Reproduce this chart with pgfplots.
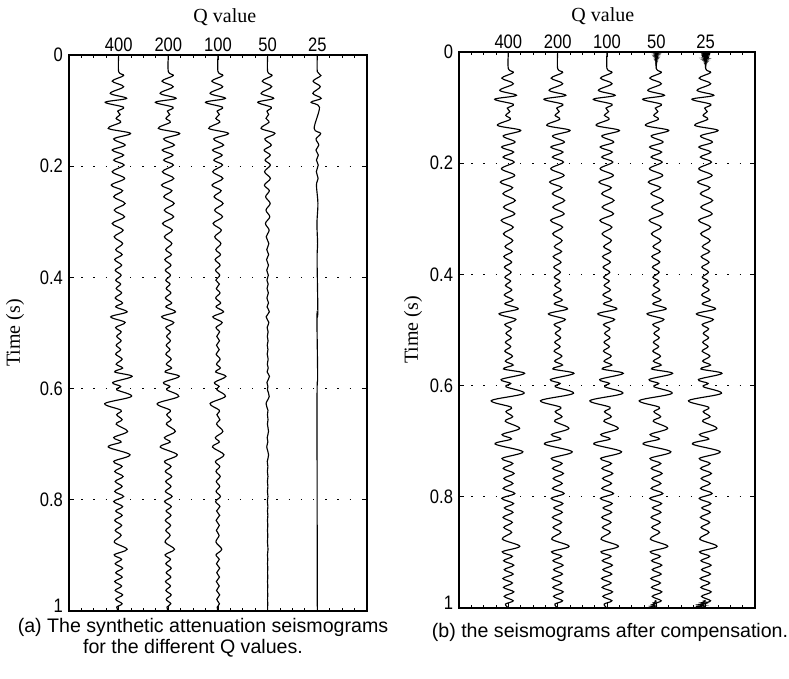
\documentclass[border=0pt]{standalone}
\usepackage{fontspec}
\setmainfont{Liberation Serif}
\newfontfamily\tlfont[FakeStretch=0.85]{Liberation Sans}
\newfontfamily\capfont{Liberation Sans}
\usepackage{pgfplots}
\usepackage{pgfplotstable}
\pgfplotsset{compat=1.18}

% t = time (s); columns = trace amplitude (x-units)
\pgfplotstableread{
t a400 a200 a100 a50 b
0.000 0 0 0 0 0
0.030 0 0 0 0 0
0.037 0.10 0.099 0.097 0.088 0.101
0.047 -0.13 -0.128 -0.125 -0.11 -0.132
0.057 0.10 0.098 0.095 0.082 0.102
0.069 -0.17 -0.166 -0.16 -0.133 -0.174
0.078 0.16 0.156 0.149 0.121 0.165
0.085 -0.27 -0.262 -0.251 -0.2 -0.278
0.094 0.10 0.097 0.092 0.072 0.103
0.101 -0.02 -0.019 -0.018 -0.014 -0.021
0.107 0.03 0.029 0.027 0.02 0.031
0.114 -0.05 -0.048 -0.045 -0.034 -0.052
0.121 0.04 0.038 0.036 0.026 0.042
0.132 -0.21 -0.201 -0.186 -0.133 -0.22
0.141 0.24 0.229 0.212 0.147 0.252
0.151 -0.10 -0.095 -0.087 -0.058 -0.105
0.162 0.13 0.123 0.113 0.074 0.137
0.171 -0.13 -0.123 -0.111 -0.072 -0.138
0.180 0.10 0.094 0.085 0.053 0.107
0.189 -0.10 -0.094 -0.085 -0.052 -0.107
0.198 0.11 0.103 0.092 0.055 0.118
0.210 -0.13 -0.121 -0.108 -0.063 -0.14
0.222 0.12 0.111 0.099 0.055 0.13
0.234 -0.15 -0.138 -0.122 -0.066 -0.163
0.244 0.08 0.073 0.064 0.034 0.087
0.255 -0.10 -0.092 -0.08 -0.041 -0.109
0.267 0.13 0.118 0.102 0.051 0.142
0.279 -0.09 -0.082 -0.07 -0.034 -0.099
0.291 0.12 0.108 0.092 0.043 0.132
0.303 -0.13 -0.117 -0.099 -0.045 -0.144
0.315 0.09 0.081 0.068 0.03 0.1
0.327 -0.09 -0.08 -0.067 -0.029 -0.1
0.339 0.08 0.071 0.059 0.024 0.09
0.350 -0.06 -0.053 -0.044 -0.018 -0.068
0.359 0.07 0.062 0.051 0.02 0.079
0.368 -0.08 -0.071 -0.058 -0.022 -0.091
0.378 0.06 0.053 0.043 0.016 0.068
0.387 -0.07 -0.061 -0.05 -0.018 -0.08
0.396 0.05 0.044 0.035 0.013 0.057
0.405 -0.06 -0.052 -0.042 -0.015 -0.069
0.412 0.04 0.035 0.028 0.01 0.046
0.420 -0.05 -0.043 -0.034 -0.012 -0.058
0.428 0.06 0.052 0.041 0.014 0.07
0.437 -0.07 -0.06 -0.047 -0.015 -0.082
0.446 0.08 0.068 0.054 0.017 0.094
0.453 -0.06 -0.051 -0.04 -0.012 -0.07
0.462 0.17 0.145 0.112 0.034 0.2
0.471 -0.16 -0.136 -0.105 -0.031 -0.188
0.481 0.13 0.11 0.084 0.024 0.154
0.490 -0.06 -0.05 -0.039 -0.011 -0.071
0.498 0.05 0.042 0.032 0.009 0.06
0.506 -0.04 -0.034 -0.025 -0.007 -0.048
0.514 0.05 0.042 0.031 0.008 0.06
0.522 -0.05 -0.042 -0.031 -0.008 -0.06
0.530 0.04 0.033 0.025 0.006 0.048
0.538 -0.06 -0.05 -0.037 -0.009 -0.072
0.547 0.07 0.058 0.043 0.01 0.085
0.556 -0.05 -0.041 -0.03 -0.007 -0.061
0.563 0.08 0.066 0.048 0.011 0.098
0.570 -0.08 -0.066 -0.048 -0.011 -0.098
0.578 0.27 0.221 0.16 0.036 0.33
0.589 -0.12 -0.098 -0.071 -0.015 -0.147
0.596 0.04 0.032 0.023 0.005 0.049
0.602 -0.04 -0.032 -0.023 -0.005 -0.049
0.614 0.26 0.21 0.15 0.031 0.32
0.627 -0.28 -0.225 -0.16 -0.032 -0.347
0.639 0.05 0.04 0.028 0.006 0.062
0.647 -0.04 -0.032 -0.022 -0.004 -0.05
0.656 0.07 0.056 0.039 0.007 0.088
0.664 -0.05 -0.04 -0.028 -0.005 -0.063
0.677 0.18 0.142 0.098 0.017 0.228
0.688 -0.10 -0.079 -0.054 -0.009 -0.127
0.696 0.05 0.039 0.027 0.004 0.064
0.705 -0.21 -0.164 -0.112 -0.018 -0.269
0.719 0.23 0.179 0.121 0.019 0.295
0.731 -0.10 -0.077 -0.052 -0.008 -0.129
0.740 0.07 0.054 0.036 0.005 0.091
0.749 -0.08 -0.062 -0.041 -0.006 -0.104
0.758 0.09 0.069 0.045 0.006 0.117
0.767 -0.07 -0.054 -0.035 -0.005 -0.091
0.776 0.07 0.053 0.035 0.005 0.092
0.785 -0.08 -0.061 -0.039 -0.005 -0.105
0.794 0.10 0.076 0.049 0.006 0.132
0.803 -0.10 -0.076 -0.049 -0.006 -0.132
0.812 0.08 0.06 0.039 0.005 0.106
0.820 -0.06 -0.045 -0.029 -0.004 -0.08
0.828 0.07 0.052 0.033 0.004 0.094
0.837 -0.08 -0.06 -0.038 -0.004 -0.107
0.846 0.06 0.045 0.028 0.003 0.081
0.855 -0.07 -0.052 -0.033 -0.004 -0.094
0.864 0.05 0.037 0.023 0.003 0.068
0.876 -0.09 -0.066 -0.041 -0.004 -0.122
0.889 0.17 0.124 0.076 0.007 0.232
0.899 -0.09 -0.066 -0.04 -0.004 -0.123
0.907 0.06 0.044 0.027 0.002 0.082
0.915 -0.07 -0.051 -0.031 -0.003 -0.096
0.923 0.08 0.058 0.035 0.003 0.11
0.931 -0.06 -0.043 -0.026 -0.002 -0.083
0.939 0.07 0.05 0.03 0.003 0.097
0.947 -0.08 -0.057 -0.034 -0.003 -0.111
0.955 0.06 0.043 0.026 0.002 0.083
0.963 -0.07 -0.05 -0.03 -0.002 -0.098
0.971 0.08 0.057 0.034 0.002 0.112
0.979 -0.06 -0.043 -0.025 -0.002 -0.084
0.987 0.07 0.05 0.029 0.002 0.099
0.993 -0.04 -0.028 -0.016 -0.001 -0.057
1.000 0 0 0 0 0
}\traceA

\pgfplotstableread{
t a25
0.000 0
0.030 0
0.037 0.072
0.047 -0.085
0.057 0.06
0.069 -0.091
0.078 0.079
0.085 -0.126
0.094 0.043
0.132 -0.064
0.141 0.067
0.151 -0.026
0.162 0.03
0.171 -0.028
0.180 0.02
0.189 -0.018
0.198 0.018
0.210 -0.02
0.222 0.016
0.234 -0.018
0.267 0.012
0.303 -0.008
0.339 0.005
0.368 -0.005
0.462 0.01
0.471 -0.008
0.578 0.006
0.627 -0.006
1.000 0
}\traceQ

\pgfplotstableread{
t q50 q25
0.0000 0.05 0.10
0.0012 -0.05 -0.10
0.0024 0.048 0.096
0.0036 -0.046 -0.092
0.0048 0.044 0.088
0.0060 -0.042 -0.084
0.0072 0.04 0.08
0.0084 -0.037 -0.074
0.0096 0.034 0.068
0.0108 -0.031 -0.062
0.0120 0.028 0.056
0.0132 -0.025 -0.05
0.0144 0.022 0.044
0.0156 -0.019 -0.038
0.0168 0.016 0.032
0.0180 -0.013 -0.026
0.0192 0.011 0.022
0.0204 -0.009 -0.018
0.0216 0.007 0.014
0.0228 -0.005 -0.01
0.0240 0.004 0.008
0.0252 -0.003 -0.006
0.0264 0.002 0.004
0.0276 -0.001 -0.002
0.0300 0 0
}\blobTop

\pgfplotstableread{
t e50 e25
0.9860 0 0
0.9875 -0.03 -0.05
0.9890 0 0
0.9905 -0.06 -0.10
0.9920 -0.01 0
0.9935 -0.09 -0.15
0.9950 -0.02 -0.01
0.9965 -0.12 -0.20
0.9980 -0.03 -0.02
0.9990 -0.16 -0.25
1.0000 -0.04 -0.02
}\blobEnd

\pgfplotsset{
  seis/.style={
    scale only axis,
    xmin=0, xmax=6, ymin=0, ymax=1, y dir=reverse,
    xtick={1,2,3,4,5}, xticklabels={400,200,100,50,25},
    xticklabel pos=right,
    minor xtick={0,0.25,...,6},
    ytick={0,0.2,0.4,0.6,0.8,1},
    yticklabels={0,0.2,0.4,0.6,0.8,\raisebox{6pt}[0.72em][0pt]{1}},
    yticklabel style={xshift=-2.5pt},
    tick align=inside,
    major tick length=5pt, minor tick length=3pt,
    every tick/.style={black, line width=0.9pt},
    axis line style={line width=1.6pt},
    ymajorgrids,
    grid style={black, line width=1.3pt, dash pattern=on 1.3pt off 10.9pt},
    tick label style={font=\fontsize{19.5}{20}\tlfont},
    label style={font=\fontsize{20}{22}\selectfont},
    xlabel={Q value}, ylabel={Time (s)},
    clip=false,
  },
  trace/.style={black, line width=1.15pt, smooth, tension=0.55},
  blob/.style={black, line width=0.8pt},
}

\begin{document}
\begin{tikzpicture}[x=1pt,y=1pt]
\useasboundingbox (0,0) rectangle (789,679);

\begin{axis}[seis, at={(69pt,68pt)}, anchor=south west, width=298pt, height=556pt,
  xlabel style={at={(axis description cs:0.523,1.0576)}, anchor=base},
  ylabel style={at={(axis description cs:-0.181,0.5)}, anchor=center}]
\addplot[trace] table[x expr=\thisrow{a400}+1, y=t] {\traceA};
\addplot[trace] table[x expr=\thisrow{a200}+2, y=t] {\traceA};
\addplot[trace] table[x expr=\thisrow{a100}+3, y=t] {\traceA};
\addplot[trace] table[x expr=\thisrow{a50}+4, y=t] {\traceA};
\addplot[trace] table[x expr=\thisrow{a25}+5, y=t] {\traceQ};
\end{axis}

\begin{axis}[seis, at={(459pt,71pt)}, anchor=south west, width=296pt, height=556pt,
  xlabel style={at={(axis description cs:0.486,1.054)}, anchor=base},
  ylabel style={at={(axis description cs:-0.155,0.5)}, anchor=center}]
\addplot[trace] table[x expr=\thisrow{b}+1, y=t] {\traceA};
\addplot[trace] table[x expr=\thisrow{b}+2, y=t] {\traceA};
\addplot[trace] table[x expr=\thisrow{b}+3, y=t] {\traceA};
\addplot[trace] table[x expr=\thisrow{b}+4, y=t] {\traceA};
\addplot[trace] table[x expr=\thisrow{b}+5, y=t] {\traceA};
\addplot[blob] table[x expr=\thisrow{q50}+4, y=t] {\blobTop};
\addplot[blob] table[x expr=\thisrow{q25}+5, y=t] {\blobTop};
\addplot[blob] table[x expr=\thisrow{e50}+4, y=t] {\blobEnd};
\addplot[blob] table[x expr=\thisrow{e25}+5, y=t] {\blobEnd};
\end{axis}

\node[anchor=base, font=\fontsize{19.6}{22}\capfont] at (203,46.5) {(a) The synthetic attenuation seismograms};
\node[anchor=base, font=\fontsize{19.6}{22}\capfont] at (193,25) {for the different Q values.};
\node[anchor=base, font=\fontsize{19.6}{22}\capfont] at (610,41.5) {(b) the seismograms after compensation.};
\end{tikzpicture}
\end{document}
